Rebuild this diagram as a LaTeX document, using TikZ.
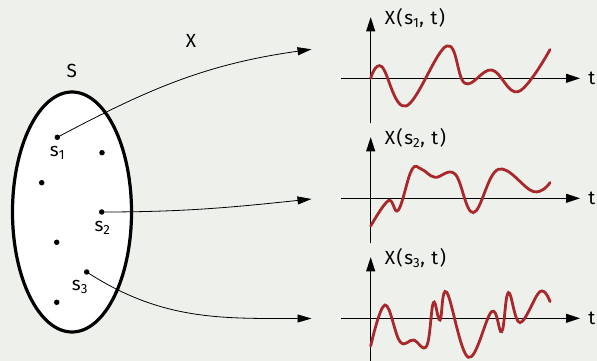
\documentclass[tikz,border=0pt]{standalone}
\usepackage{fontspec}
\setmainfont{Fira Sans}[LetterSpace=8]
\usetikzlibrary{arrows.meta}
\definecolor{bgc}{RGB}{238,240,235}
\definecolor{curvec}{RGB}{168,40,44}
\tikzset{
  dot/.style={circle,fill=black,inner sep=0pt,minimum size=5.5pt},
  lbl/.style={inner sep=0pt,font=\fontsize{19}{22}\selectfont},
  maparrow/.style={-{Triangle[length=14pt,width=8pt]},line width=0.8pt},
  axis/.style={-{Triangle[length=14pt,width=9pt]},line width=0.9pt},
  sig/.style={curvec,line width=2.8pt,line cap=round,smooth,tension=0.65}
}
\begin{document}
\begin{tikzpicture}[x=1pt,y=1pt]
\fill[bgc] (0,0) rectangle (597,361);
\useasboundingbox (0,0) rectangle (597,361);
% set S
\draw[line width=3.2pt,fill=white] (72,149) ellipse [x radius=59.5,y radius=120];
\node[lbl] (S) at (71.7,290) {S};
\node[lbl] (X) at (191,320) {X};
\node[dot] (d1) at (57.3,223.7) {};
\node[dot] (d2) at (102,208.3) {};
\node[dot] (d3) at (41.7,178.3) {};
\node[dot] (d4) at (101.7,149) {};
\node[dot] (d5) at (56.7,118.7) {};
\node[dot] (d6) at (86.7,89) {};
\node[dot] (d7) at (56.7,58.7) {};
\node[lbl] (l1) at (57.5,208) {s\textsubscript{1}};
\node[lbl] (l2) at (102.5,133) {s\textsubscript{2}};
\node[lbl] (l3) at (80,74) {s\textsubscript{3}};
\coordinate (e1) at (311.5,311.7);
\coordinate (e2) at (311.5,162);
\coordinate (e3) at (311.5,42.5);
\draw[maparrow] (d1.center) to[out=28,in=188] (e1);
\draw[maparrow] (d4.center) to[out=0,in=186] (e2);
\draw[maparrow] (d6.center) to[out=-33,in=180] (e3);
% plots
\foreach \k/\oy/\bot in {1/282.7/45,2/162.7/45,3/42.7/42.7}{
  \begin{scope}[shift={(370.7,\oy)}]
    \coordinate (h0\k) at (-29.7,0);
    \coordinate (h1\k) at (209.3,0);
    \coordinate (v0\k) at (0,-\bot);
    \coordinate (v1\k) at (0,61);
    \draw[axis] (h0\k) -- (h1\k);
    \draw[axis] (v0\k) -- (v1\k);
    \node[lbl] (t\k) at (221,0) {t};
    \node[lbl,anchor=west] (y\k) at (14,60) {X(s\textsubscript{\k}, t)};
  \end{scope}
}
\begin{scope}[shift={(370.7,282.7)}]
\draw[sig] plot coordinates {(0,0) (11,11.7) (35.3,-27.7) (76,32.3) (94.3,-5) (121,8.3) (147.7,-13.3) (179.3,28.7)};
\end{scope}
\begin{scope}[shift={(370.7,162.7)}]
\draw[sig] plot coordinates {(0,-27.7) (17.7,-2.3) (27.7,-11.7) (41,28.3) (51,29) (64.3,21) (84.3,24.3) (102.7,-14.3) (127.7,29) (162.7,6.7) (179.3,15.7)};
\end{scope}
\begin{scope}[shift={(370.7,42.7)}]
\draw[sig] plot coordinates {(0,-27.7) (14.3,13.3) (29.3,-23.3) (42.7,-21.7) (56,-27.7) (62.7,15.7) (69.3,-1.7) (76,26) (97.7,-39) (121,6.7) (131,-13.3) (137.7,25.7) (149.3,-4.3) (169.3,26.7) (179.3,16.7)};
\end{scope}
\end{tikzpicture}
\end{document}
